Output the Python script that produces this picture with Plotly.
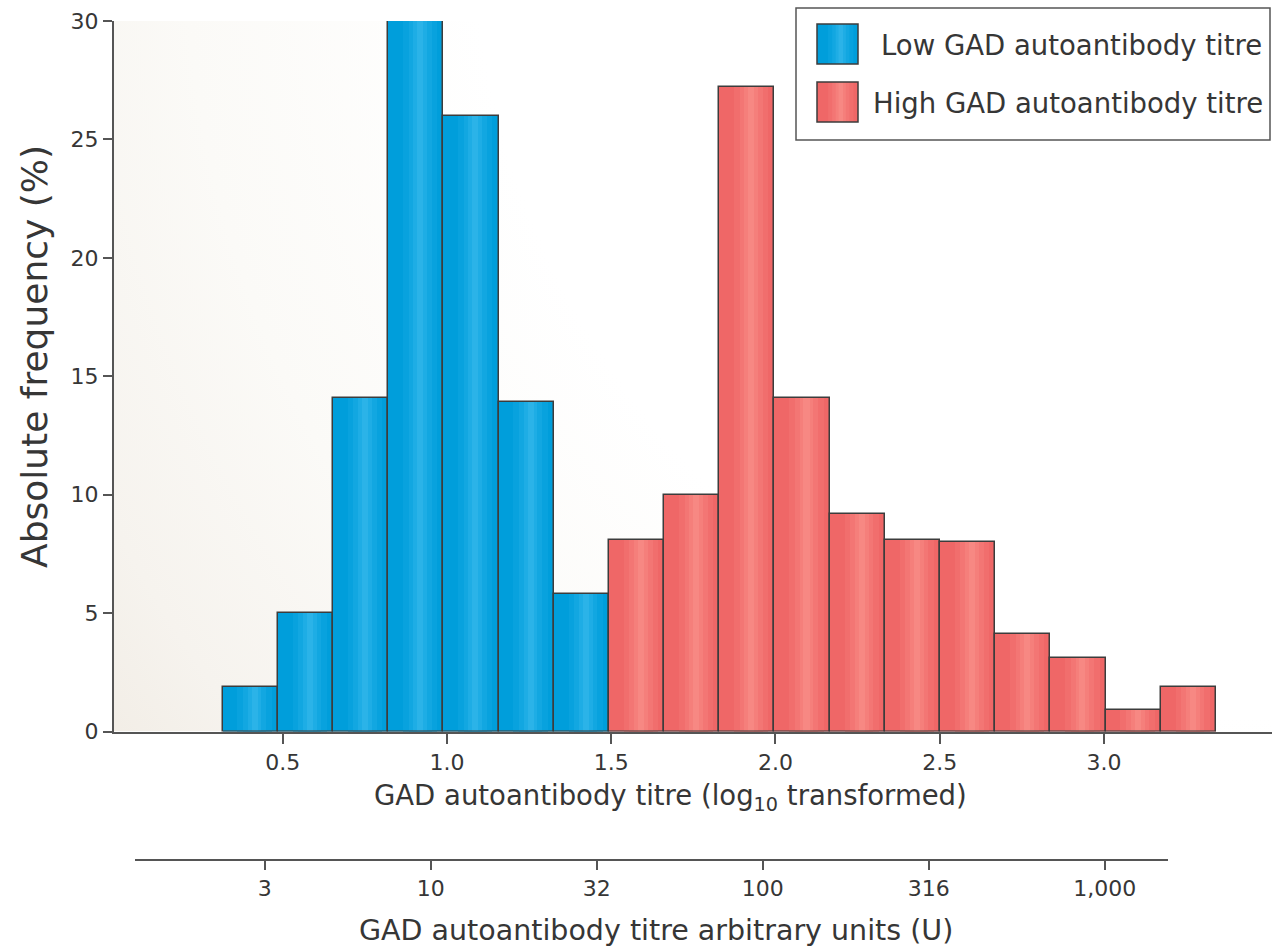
import base64
import plotly.graph_objects as go

# ---------------- data ----------------
low_centers = [0.401, 0.569, 0.737, 0.905, 1.073, 1.241, 1.409]
low_freq = [1.9, 5.0, 14.1, 30.0, 26.0, 13.9, 5.8]
high_centers = [1.577, 1.745, 1.913, 2.081, 2.249, 2.417, 2.585, 2.753, 2.921, 3.089, 3.257]
high_freq = [8.1, 10.0, 27.2, 14.1, 9.2, 8.1, 8.0, 4.1, 3.1, 0.9, 1.9]
bin_width = 0.168

x_tickvals = [0.5, 1.0, 1.5, 2.0, 2.5, 3.0]
x_ticktext = ["0.5", "1.0", "1.5", "2.0", "2.5", "3.0"]
u_tickvals = [0.5, 1.0, 1.5, 2.0, 2.5, 3.03]
u_ticktext = ["3", "10", "32", "100", "316", "1,000"]
y_tickvals = [0, 5, 10, 15, 20, 25, 30]

series_names = ["Low GAD autoantibody titre", "High GAD autoantibody titre"]

# ---------------- layout constants ----------------
W, H = 1272, 947
ML, MR, MT, MB = 114, 0, 21, 87
PW = W - ML - MR
PH = H - MT - MB
FONT = "DejaVu Sans"
TXT = "#363636"
AX = "#555555"
OUTLINE = "#3c3c3c"

BLUE = ["#009edb", "#08a2de", "#12a7e1", "#1eade5", "#2bb3e8"]
RED = ["#ef6767", "#f16e6d", "#f37674", "#f57f7b", "#f78883"]
STRIPE_W = [0.62, 0.42, 0.25, 0.11]
STRIPE_C = 0.58


def pxx(v):
    return (v - ML) / PW


def pxy(v):
    return (H - MB - v) / PH


y_dom0 = pxy(731.5)
x_range = [(114 - 118.45) / 328.5, (1272 - 118.45) / 328.5]
x2_dom = [pxx(134.7), pxx(1167.5)]
x2_range = [1 - (430.7 - 134.7) / 332.0, 1 + (1167.5 - 430.7) / 332.0]

fig = go.Figure()


def add_series(xs, ys, cols, name):
    w = bin_width
    fig.add_trace(go.Bar(x=xs, y=ys, width=w, marker=dict(color=cols[0], line=dict(width=0)),
                         name=name, showlegend=False, hoverinfo="x+y"))
    for sw, col in zip(STRIPE_W, cols[1:]):
        fig.add_trace(go.Bar(x=xs, y=ys, width=w * sw, offset=w * (STRIPE_C - 0.5 - sw / 2),
                             marker=dict(color=col, line=dict(width=0)),
                             showlegend=False, hoverinfo="skip"))
    fig.add_trace(go.Bar(x=xs, y=ys, width=w, marker=dict(color="rgba(0,0,0,0)",
                         line=dict(width=1.5, color=OUTLINE)),
                         showlegend=False, hoverinfo="skip"))


add_series(low_centers, low_freq, BLUE, series_names[0])
add_series(high_centers, high_freq, RED, series_names[1])

# carrier for the secondary (arbitrary units) axis
fig.add_trace(go.Scatter(x=[None], y=[None], xaxis="x2", yaxis="y", showlegend=False,
                         hoverinfo="skip", mode="markers"))

# background gradient
svg = ('<svg xmlns="http://www.w3.org/2000/svg" width="1158" height="711" viewBox="0 0 1158 711" '
       'preserveAspectRatio="none"><defs><radialGradient id="g" gradientUnits="userSpaceOnUse" '
       'cx="1158" cy="-100" r="1450"><stop offset="0" stop-color="#ffffff"/>'
       '<stop offset="0.55" stop-color="#ffffff"/><stop offset="0.75" stop-color="#fbfaf7"/>'
       '<stop offset="0.9" stop-color="#f6f3ee"/><stop offset="1" stop-color="#f1ece4"/>'
       '</radialGradient></defs><rect width="1158" height="711" fill="url(#g)"/></svg>')
src = "data:image/svg+xml;base64," + base64.b64encode(svg.encode()).decode()

shapes = []
# legend box
shapes.append(dict(type="rect", xref="paper", yref="paper", x0=pxx(796), x1=pxx(1270),
                   y0=pxy(140), y1=pxy(8), line=dict(color=AX, width=1.5), fillcolor="white", layer="above"))


def legend_square(top, cols):
    x0, x1 = 817, 858
    y0, y1 = top, top + 40
    wsq = x1 - x0
    shapes.append(dict(type="rect", xref="paper", yref="paper", x0=pxx(x0), x1=pxx(x1),
                       y0=pxy(y1), y1=pxy(y0), line=dict(width=0), fillcolor=cols[0], layer="above"))
    c = x0 + wsq * STRIPE_C
    for sw, col in zip(STRIPE_W, cols[1:]):
        shapes.append(dict(type="rect", xref="paper", yref="paper", x0=pxx(c - wsq * sw / 2),
                           x1=pxx(c + wsq * sw / 2), y0=pxy(y1), y1=pxy(y0), line=dict(width=0),
                           fillcolor=col, layer="above"))
    shapes.append(dict(type="rect", xref="paper", yref="paper", x0=pxx(x0), x1=pxx(x1),
                       y0=pxy(y1), y1=pxy(y0), line=dict(width=1.5, color=OUTLINE),
                       fillcolor="rgba(0,0,0,0)", layer="above"))


legend_square(24, BLUE)
legend_square(82, RED)

annotations = [
    dict(text=series_names[0], x=pxx(879), y=pxy(45), xref="paper", yref="paper",
         xanchor="left", yanchor="middle", showarrow=False, font=dict(size=27.5, color=TXT, family=FONT)),
    dict(text=series_names[1], x=pxx(871), y=pxy(103), xref="paper", yref="paper",
         xanchor="left", yanchor="middle", showarrow=False, font=dict(size=27.5, color=TXT, family=FONT)),
    dict(text="Absolute frequency (%)", x=pxx(34), y=pxy(357), xref="paper", yref="paper",
         xanchor="center", yanchor="middle", textangle=-90, showarrow=False,
         font=dict(size=36, color=TXT, family=FONT)),
    dict(text="GAD autoantibody titre (log<sub>10</sub> transformed)", x=pxx(670), y=pxy(797),
         xref="paper", yref="paper", xanchor="center", yanchor="middle", showarrow=False,
         font=dict(size=27.5, color=TXT, family=FONT)),
    dict(text="GAD autoantibody titre arbitrary units (U)", x=pxx(656), y=pxy(930),
         xref="paper", yref="paper", xanchor="center", yanchor="middle", showarrow=False,
         font=dict(size=28.5, color=TXT, family=FONT)),
]

fig.update_layout(
    width=W, height=H,
    margin=dict(l=ML, r=MR, t=MT, b=MB, pad=0),
    paper_bgcolor="white", plot_bgcolor="rgba(0,0,0,0)",
    barmode="overlay", bargap=0,
    showlegend=False,
    font=dict(family=FONT, color=TXT, size=22),
    xaxis=dict(domain=[0, 1], range=x_range, anchor="y", tickmode="array",
               tickvals=x_tickvals, ticktext=x_ticktext, ticks="outside", ticklen=10,
               tickwidth=1.5, tickcolor=AX, showline=True, linecolor=AX, linewidth=2,
               showgrid=False, zeroline=False, tickfont=dict(size=22, color=TXT)),
    xaxis2=dict(domain=x2_dom, range=x2_range, anchor="free", position=0, tickmode="array",
                tickvals=u_tickvals, ticktext=u_ticktext, ticks="outside", ticklen=9,
                tickwidth=1.5, tickcolor=AX, showline=True, linecolor=AX, linewidth=2,
                showgrid=False, zeroline=False, tickfont=dict(size=22, color=TXT)),
    yaxis=dict(domain=[y_dom0, 1], range=[0, 30], tickmode="array", tickvals=y_tickvals,
               ticks="outside", ticklen=9, tickwidth=1.5, tickcolor=AX, showline=True,
               linecolor=AX, linewidth=2, showgrid=False, zeroline=False,
               tickfont=dict(size=22, color=TXT)),
    images=[dict(source=src, xref="x", yref="y", x=x_range[0], y=30,
                 sizex=x_range[1] - x_range[0], sizey=30, sizing="stretch",
                 xanchor="left", yanchor="top", layer="below")],
    shapes=shapes,
    annotations=annotations,
)

fig.write_html("out.html")
